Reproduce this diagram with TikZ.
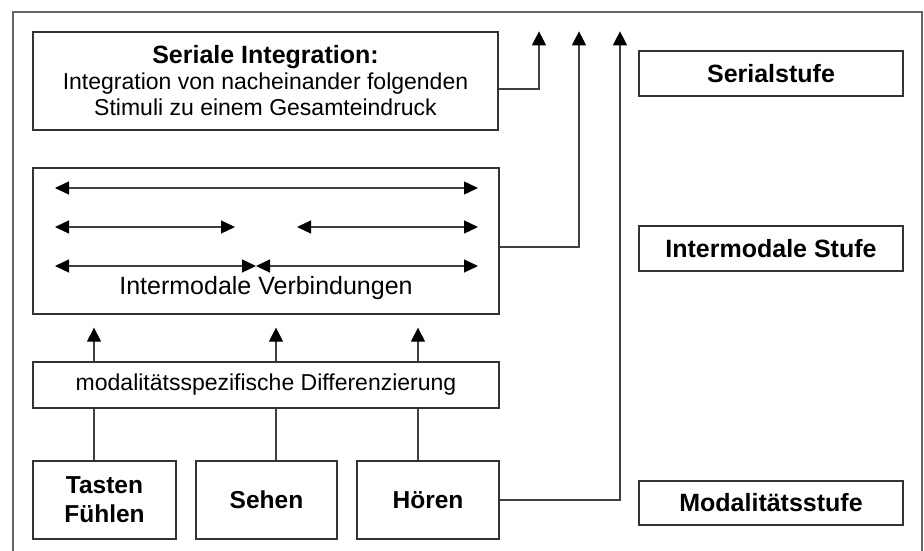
\documentclass[tikz,border=0pt]{standalone}
\usepackage{fontspec}
\setmainfont{Liberation Sans}
\usepackage{tikz}
\usetikzlibrary{calc, positioning, arrows.meta}

\begin{document}
\begin{tikzpicture}[x=1pt, y=-1pt,
  box/.style={draw=black!80, line width=1.3pt, inner sep=0pt, align=center},
  lvl/.style={box, minimum width=264pt, minimum height=45pt, font=\fontsize{25}{29}\selectfont\bfseries},
  sense/.style={box, minimum height=78pt, font=\fontsize{24.5}{29}\selectfont\bfseries},
  lnk/.style={draw=black!75, line width=1.3pt},
  tip/.style={lnk, -{Triangle[width=14pt,length=14pt,color=black]}},
  dbl/.style={lnk, {Triangle[width=13pt,length=14pt,color=black]}-{Triangle[width=13pt,length=14pt,color=black]}}]
\useasboundingbox (0,0) rectangle (924,551);
\draw[black!60, line width=2pt] (13,600) -- (13,12) -- (922,12) -- (922,600);

\node[box, minimum width=465pt, minimum height=98pt, font=\fontsize{23}{26}\selectfont] (seri) at (265.5,81)
  {{\fontsize{25}{26}\selectfont\bfseries Seriale Integration:}\\Integration von nacheinander folgenden\\Stimuli zu einem Gesamteindruck};
\node[box, minimum width=466pt, minimum height=146pt] (inter) at (266,241) {};
\node[font=\fontsize{25}{29}\selectfont] (verb) at (266,288) {Intermodale Verbindungen};
\node[box, minimum width=466pt, minimum height=46pt, font=\fontsize{23}{26}\selectfont] (diff) at (266,385) {modalitätsspezifische Differenzierung};
\node[sense, minimum width=143pt] (tasten) at (104.5,500) {Tasten\\Fühlen};
\node[sense, minimum width=141pt] (sehen) at (266.5,500) {Sehen};
\node[sense, minimum width=142pt] (hoeren) at (428,500) {Hören};

\node[lvl] (serstufe) at (771,73.5) {Serialstufe};
\node[lvl] (intstufe) at (771,248.5) {Intermodale Stufe};
\node[lvl, minimum height=44pt] (modstufe) at (771,503) {Modalitätsstufe};

\foreach \y/\a/\b in {188/55/478, 227/55/235, 227/297/478, 266/55/256, 266/256/478}
  \draw[dbl] (\a,\y) -- (\b,\y);

\foreach \x/\s in {94/tasten, 276/sehen, 418/hoeren} {
  \draw[lnk] (\s.north -| \x,0) -- (diff.south -| \x,0);
  \draw[tip, shorten >=13pt] (diff.north -| \x,0) -- (inter.south -| \x,0);
}

\draw[tip] ([yshift=-8pt]seri.east) -| (seri.north -| 539,0);
\draw[tip] ([yshift=-6pt]inter.east) -| (seri.north -| 579,0);
\draw[tip] (hoeren.east) -| (seri.north -| 620,0);
\end{tikzpicture}
\end{document}
